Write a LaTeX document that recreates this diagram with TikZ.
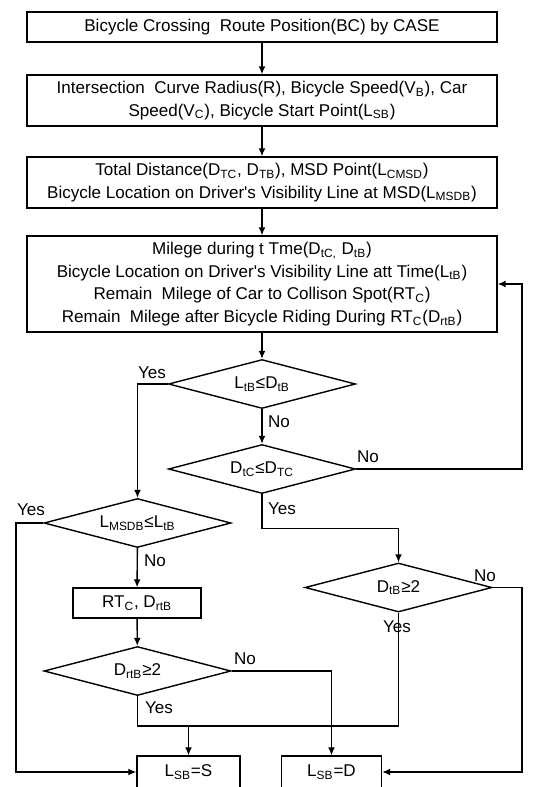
\documentclass[tikz,border=0pt]{standalone}
\usepackage{fontspec}
\setmainfont{Liberation Sans}
\usetikzlibrary{arrows.meta,shapes.geometric}
\tikzset{
  box/.style      = {rectangle, draw=black, line width=0.8pt, minimum width=94mm,
                     minimum height=10.2mm, align=center, inner sep=0pt,
                     font=\fontsize{9.7}{12.9}\selectfont},
  decision/.style = {diamond, draw=black, line width=0.8pt, aspect=3.7, inner sep=0pt,
                     minimum width=37.4mm, minimum height=9.8mm,
                     font=\fontsize{9.7}{12.9}\selectfont},
  flow/.style     = {-{Latex[length=1.6mm,width=1.4mm]}, line width=0.8pt},
  link/.style     = {line width=0.8pt},
  lbl/.style      = {inner sep=0pt, font=\fontsize{9.7}{12.9}\selectfont},
}

\begin{document}
\begin{tikzpicture}[x=0.2mm, y=-0.2mm]
      \useasboundingbox (0,0) rectangle (559,787);
      % process boxes
      \node[box, minimum height=6mm] (case) at (262,27)
        {Bicycle Crossing~~Route Position(BC) by CASE};
      \node[box] (input) at (262,100.5)
        {Intersection~~Curve Radius(R), Bicycle Speed(V\textsubscript{B}), Car\\
         Speed(V\textsubscript{C}), Bicycle Start Point(L\textsubscript{SB})};
      \node[box] (dist) at (262,182.5)
        {Total Distance(D\textsubscript{TC}, D\textsubscript{TB}), MSD Point(L\textsubscript{CMSD})\\
         Bicycle Location on Driver\textquotesingle s Visibility Line at MSD(L\textsubscript{MSDB})};
      \node[box, minimum height=19.2mm] (milege) at (262,284)
        {Milege during t Tme(D\textsubscript{tC,} D\textsubscript{tB})\\
         Bicycle Location on Driver\textquotesingle s Visibility Line att Time(L\textsubscript{tB})\\
         Remain~~Milege of Car to Collison Spot(RT\textsubscript{C})\\
         Remain~~Milege after Bicycle Riding During RT\textsubscript{C}(D\textsubscript{rtB})};
      % decisions
      \node[decision] (q1) at (262,384) {L\textsubscript{tB}≤D\textsubscript{tB}};
      \node[decision] (q2) at (262,469) {D\textsubscript{tC}≤D\textsubscript{TC}};
      \node[decision] (q3) at (137.5,523) {L\textsubscript{MSDB}≤L\textsubscript{tB}};
      \node[box, minimum width=25.6mm, minimum height=6mm] (rt) at (137,603)
        {RT\textsubscript{C}, D\textsubscript{rtB}};
      \node[decision] (q4) at (398.5,587.5) {D\textsubscript{tB}≥2};
      \node[decision] (q5) at (137.5,671) {D\textsubscript{rtB}≥2};
      % results
      \node[box, minimum width=20.6mm, minimum height=6.4mm] (setS) at (188.5,772)
        {L\textsubscript{SB}=S};
      \node[box, minimum width=20mm, minimum height=6.4mm] (setD) at (331.5,772)
        {L\textsubscript{SB}=D};
      \coordinate (rail) at (522,0);
      \coordinate (lrail) at (16,0);
      \coordinate (merge) at (188.5,726);
      % connectors
      \draw[flow] (case) -- (input);
      \draw[flow] (input) -- (dist);
      \draw[flow] (dist) -- (milege);
      \draw[flow] (milege) -- (q1);
      \draw[flow] (q1.west) -| (q3.north);
      \draw[flow] (q1) -- (q2);
      \draw[flow] (q2.east) -| (rail |- milege.east) -- (milege.east);
      \draw[flow] (q2.south) -- ++(0,34) -| (q4.north);
      \draw[flow] (q3.west) -| (lrail |- setS.west) -- (setS.west);
      \draw[flow] (q3) -- (rt);
      \draw[flow] (rt) -- (q5);
      \draw[flow] (q5.east) -| (setD.north);
      \draw[link] (q5.south) |- (merge);
      \draw[link] (q4.south) |- (merge);
      \draw[flow] (merge) -- (setS);
      \draw[flow] (q4.east) -| (rail |- setD.east) -- (setD.east);
      % labels
      \node[lbl] (y1) at (152,373) {Yes};
      \node[lbl] (n1) at (279,422) {No};
      \node[lbl] (n2) at (368,457) {No};
      \node[lbl] (y2) at (282,509) {Yes};
      \node[lbl] (y3) at (31,510) {Yes};
      \node[lbl] (n3) at (155,561) {No};
      \node[lbl] (n4) at (485,576) {No};
      \node[lbl] (y4) at (397,627) {Yes};
      \node[lbl] (n5) at (245,659) {No};
      \node[lbl] (y5) at (159,708) {Yes};
    \end{tikzpicture}
\end{document}
